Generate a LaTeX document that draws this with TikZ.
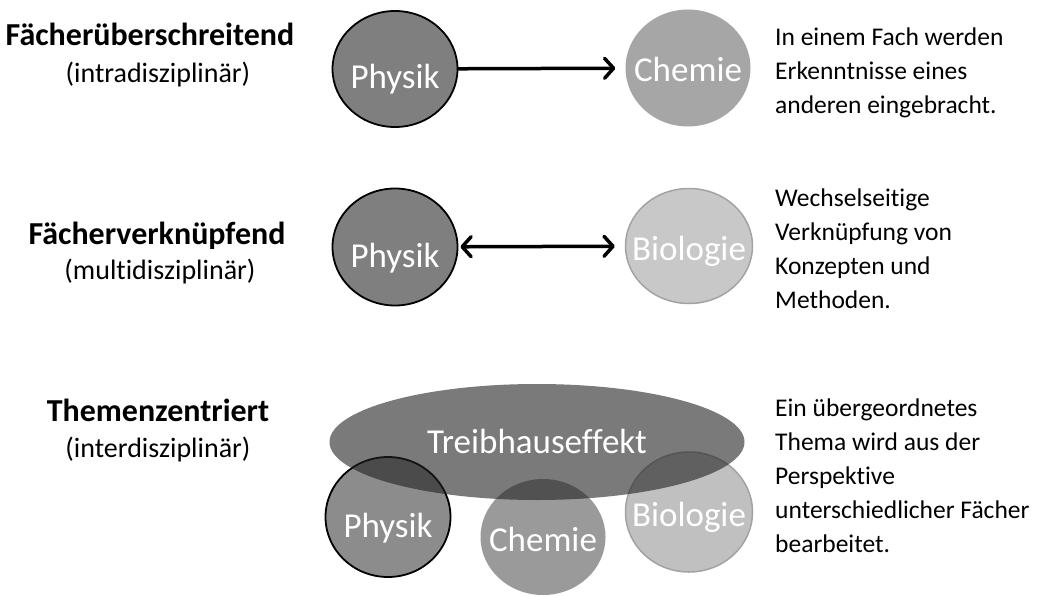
\documentclass[tikz,border=0pt]{standalone}
\usepackage{fontspec}
\setmainfont{Carlito}[Ligatures=NoCommon]
\usetikzlibrary{arrows.meta, shapes.geometric}
\definecolor{physgray}{HTML}{7F7F7F}
\definecolor{chemgray}{HTML}{A6A6A6}
\definecolor{biogray}{HTML}{C8C8C8}
\definecolor{bioedge}{HTML}{A3A3A3}
\definecolor{physlight}{HTML}{8C8C8C}
\definecolor{chemlight}{HTML}{9A9A9A}
\definecolor{biodark}{HTML}{C0C0C0}
\definecolor{themegray}{HTML}{212121}

\tikzset{
  fach/.style={ellipse, inner xsep=-80pt, inner ysep=-30pt, minimum width=125pt,
    minimum height=116pt, text=white, text height=28pt, text depth=0pt,
    font=\fontsize{35}{40}\selectfont},
  physik/.style={fach, fill=physgray, draw=black, line width=1.8pt, text height=40pt},
  titel/.style={anchor=base, font=\fontsize{32}{36}\selectfont\bfseries},
  untertitel/.style={anchor=base, font=\fontsize{28}{32}\selectfont},
  beschreibung/.style={anchor=north west, inner sep=0pt, align=left,
    font=\fontsize{25.5}{34}\selectfont},
  barb/.tip={Straight Barb[length=9pt, width=20pt, line cap=round, line join=round]},
  pfeil/.style={line width=3.5pt, line cap=round},
}

\begin{document}
\begin{tikzpicture}[x=1pt, y=-1pt]
  \useasboundingbox (0,0) rectangle (1059,596);

  % Zeile 1: intradisziplinaer
  \node[titel]      (titel1) at (150,46) {Fächerüberschreitend};
  \node[untertitel] (unter1) at (158,83) {(intradisziplinär)};
  \node[physik] (phys1) at (395,69) {Physik};
  \node[fach, fill=chemgray, minimum height=117pt] (chem1) at (688,68) {Chemie};
  \draw[pfeil, -barb, shorten >=10pt] (phys1) -- (chem1);
  \node[beschreibung] (text1) at (775,28)
    {In einem Fach werden\\Erkenntnisse eines\\anderen eingebracht.};

  % Zeile 2: multidisziplinaer
  \node[titel]      (titel2) at (157,244) {Fächerverknüpfend};
  \node[untertitel] (unter2) at (160,279) {(multidisziplinär)};
  \node[physik, minimum height=117pt] (phys2) at (395,247) {Physik};
  \node[fach, fill=biogray, draw=bioedge, line width=1.5pt, minimum width=127pt,
    minimum height=115pt] (bio2) at (689,246) {Biologie};
  \draw[pfeil, barb-barb, shorten <=2pt, shorten >=10pt] (phys2) -- (bio2);
  \node[beschreibung] (text2) at (775,189)
    {Wechselseitige\\Verknüpfung von\\Konzepten und\\Methoden.};

  % Zeile 3: interdisziplinaer
  \node[titel]      (titel3) at (158,421) {Themenzentriert};
  \node[untertitel] (unter3) at (158,457) {(interdisziplinär)};
  \node[physik, fill=physlight, minimum height=120pt] (phys3) at (388,517) {Physik};
  \node[fach, fill=chemlight] (chem3) at (543,537) {Chemie};
  \node[fach, fill=biodark, draw=bioedge, line width=1.5pt, minimum width=127pt,
    minimum height=120pt] (bio3) at (689,512) {Biologie};
  \node[fach, fill=themegray, fill opacity=0.6, text opacity=1, minimum width=415pt,
    minimum height=116pt, text height=22pt] (thema) at (537,442) {Treibhauseffekt};
  \node[beschreibung] (text3) at (775,399)
    {Ein übergeordnetes\\Thema wird aus der\\Perspektive\\unterschiedlicher Fächer\\bearbeitet.};
\end{tikzpicture}
\end{document}
